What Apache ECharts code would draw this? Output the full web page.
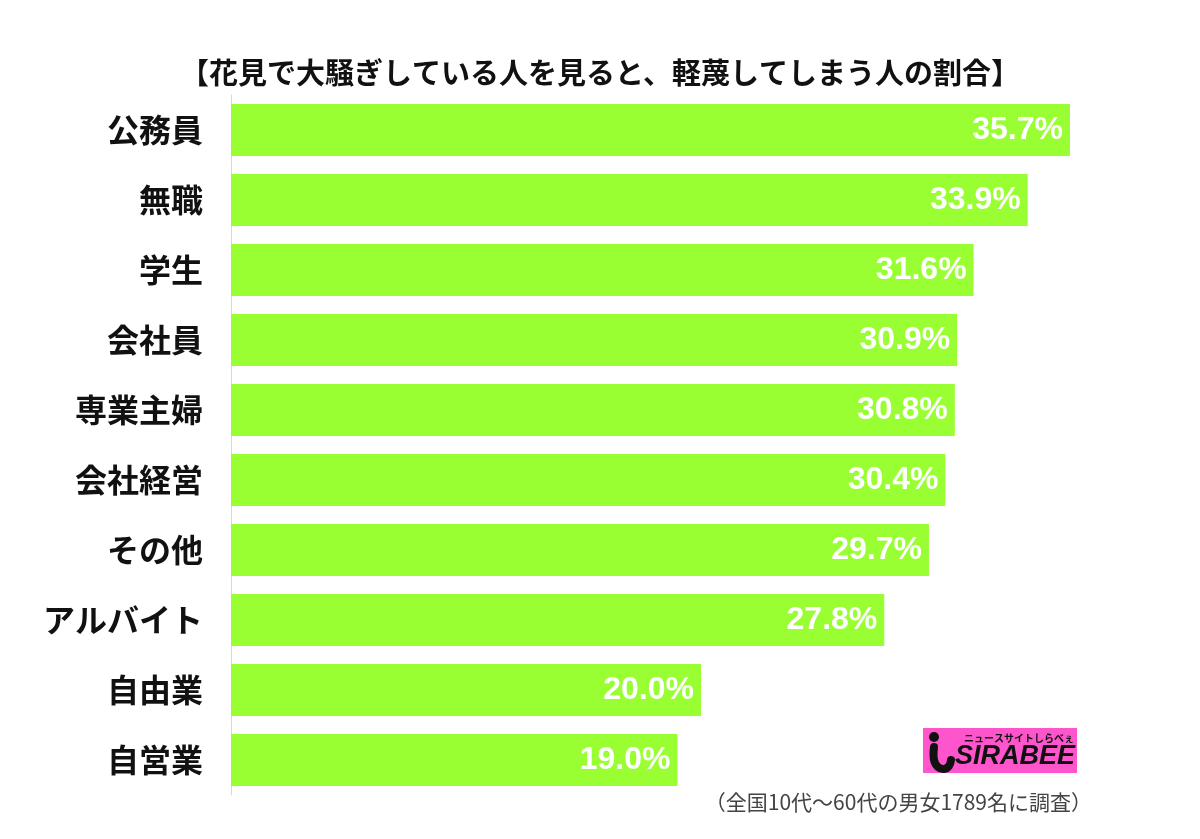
<!DOCTYPE html>
<html><head><meta charset="utf-8">
<script src="https://cdn.jsdelivr.net/npm/echarts@6/dist/echarts.min.js"></script>
<style>html,body{margin:0;padding:0;background:#fff}#c{width:1200px;height:839px}</style>
</head><body><div id="c"></div>
<script>
const categories = ['公務員','無職','学生','会社員','専業主婦','会社経営','その他','アルバイト','自由業','自営業'];
const values = [35.7,33.9,31.6,30.9,30.8,30.4,29.7,27.8,20.0,19.0];
const titleText = '【花見で大騒ぎしている人を見ると、軽蔑してしまう人の割合】';
const noteText = '（全国10代～60代の男女1789名に調査）';

const chart = echarts.init(document.getElementById('c'));
chart.setOption({
  backgroundColor:'#fff',
  animation:false,
  title:{text:titleText,left:'center',top:53,textStyle:{fontFamily:'Noto Sans CJK JP',fontWeight:'bold',fontSize:29,color:'#111'}},
  grid:{left:231,right:29,top:95,bottom:44},
  xAxis:{type:'value',min:0,max:40,show:false},
  yAxis:{type:'category',data:categories,inverse:true,
    axisLine:{show:true,lineStyle:{color:'#d9d9d9',width:1}},
    axisTick:{show:false},
    axisLabel:{margin:28,fontFamily:'Noto Sans CJK JP',fontWeight:'bold',fontSize:32,color:'#111'}},
  series:[{type:'bar',data:values,barWidth:52,itemStyle:{color:'#99ff33'},
    label:{show:true,position:'insideRight',distance:7,formatter:p=>p.value.toFixed(1)+'%',
      fontFamily:'Liberation Sans',fontWeight:'bold',fontSize:32,color:'#fff'}}],
  graphic:[
    {type:'rect',shape:{x:923,y:728,width:154,height:45},style:{fill:'#ff55cc'}},
    {type:'text',style:{x:1074,y:738,text:'ニュースサイトしらべぇ',fontSize:10,fontWeight:'bold',fontFamily:'Noto Sans CJK JP',fill:'#111',textAlign:'right',textVerticalAlign:'middle'}},
    {type:'circle',shape:{cx:934,cy:737,r:5},style:{fill:'#111'}},
    {type:'polyline',shape:{points:[[934,747],[934,760],[938,767],[944,769],[949,766],[951,760]],smooth:0.4},style:{stroke:'#111',lineWidth:8,fill:null,lineCap:'round'}},
    {type:'text',style:{x:1075,y:770,text:'SIRABEE',fontSize:27,fontWeight:'900',fontStyle:'italic',fontFamily:'Liberation Sans',fill:'#111',textAlign:'right',textVerticalAlign:'bottom'}},
    {type:'text',style:{x:1092,y:802,text:noteText,fontSize:21,fontFamily:'Noto Sans CJK JP',fill:'#444',textAlign:'right',textVerticalAlign:'middle'}}
  ]
});
</script></body></html>
